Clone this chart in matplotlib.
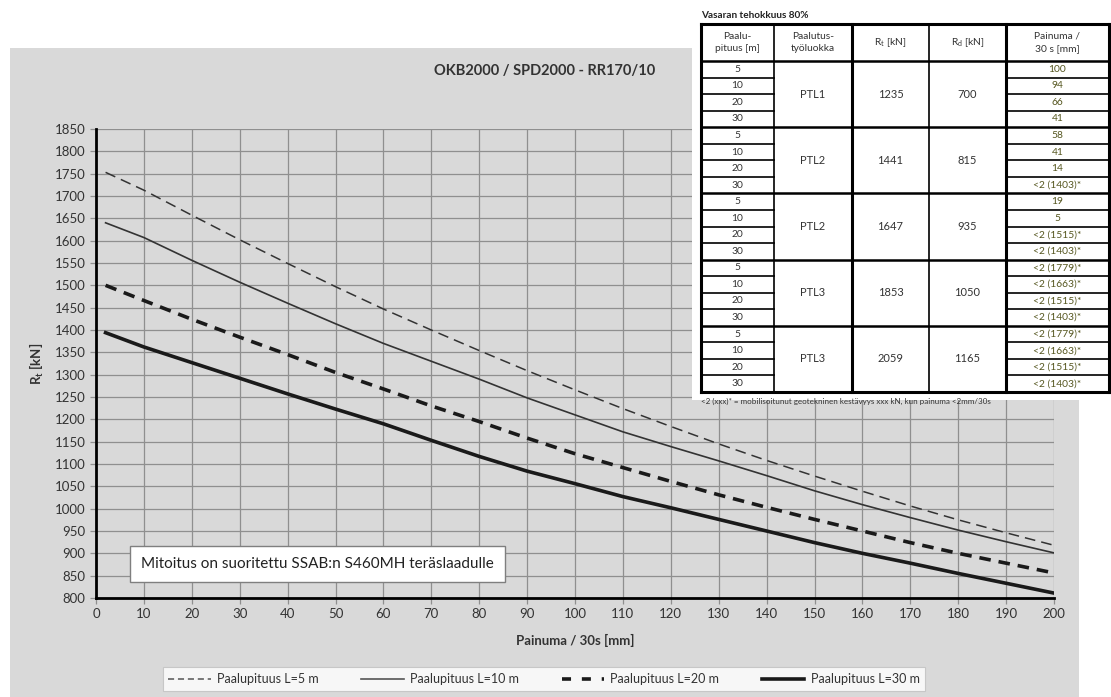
import matplotlib
matplotlib.use("Agg")
import matplotlib.pyplot as plt
from matplotlib.patches import Rectangle
from matplotlib.lines import Line2D

plt.rcParams['font.family'] = ['Lato', 'DejaVu Sans']

# ---- data ----
painuma = [2, 10, 20, 30, 40, 50, 60, 70, 80, 90, 100, 110, 120, 130, 140, 150, 160, 170, 180, 190, 200]
rt_l5 = [1753, 1713, 1657, 1602, 1549, 1497, 1447, 1400, 1354, 1309, 1266, 1224, 1184, 1145, 1108, 1073, 1039, 1006, 975, 946, 918]
rt_l10 = [1640, 1607, 1556, 1507, 1460, 1414, 1370, 1330, 1290, 1248, 1210, 1172, 1139, 1107, 1074, 1040, 1009, 980, 952, 926, 901]
rt_l20 = [1500, 1466, 1424, 1384, 1345, 1305, 1268, 1230, 1195, 1158, 1123, 1092, 1061, 1031, 1003, 976, 950, 924, 900, 878, 856]
rt_l30 = [1394, 1362, 1327, 1292, 1257, 1223, 1190, 1153, 1117, 1084, 1056, 1027, 1002, 976, 950, 924, 900, 878, 855, 833, 811]
series_labels = ["Paalupituus L=5 m", "Paalupituus L=10 m", "Paalupituus L=20 m", "Paalupituus L=30 m"]

# table
tbl_header = ["Paalu-\npituus [m]", "Paalutus-\ntyöluokka", "R$_\\mathregular{t}$ [kN]",
              "R$_\\mathregular{d}$ [kN]", "Painuma /\n30 s [mm]"]
tbl_lengths = ["5", "10", "20", "30"]
tbl_ptl = ["PTL1", "PTL2", "PTL2", "PTL3", "PTL3"]
tbl_rt = ["1235", "1441", "1647", "1853", "2059"]
tbl_rd = ["700", "815", "935", "1050", "1165"]
tbl_painuma = [
    ["100", "94", "66", "41"],
    ["58", "41", "14", "<2 (1403)*"],
    ["19", "5", "<2 (1515)*", "<2 (1403)*"],
    ["<2 (1779)*", "<2 (1663)*", "<2 (1515)*", "<2 (1403)*"],
    ["<2 (1779)*", "<2 (1663)*", "<2 (1515)*", "<2 (1403)*"],
]

W, H = 1111, 697
fig = plt.figure(figsize=(W / 100, H / 100), dpi=100)
fig.patch.set_facecolor("white")
BG = "#d9d9d9"
fig.add_artist(Rectangle((10 / W, 0), 1069 / W, (H - 48) / H, transform=fig.transFigure,
                         facecolor=BG, edgecolor="none", zorder=-5))

# ---- main chart ----
ax = fig.add_axes([96 / W, 1 - 598 / H, (1054 - 96) / W, (598 - 129) / H])
ax.set_facecolor(BG)
ink = "#1a1a1a"
ax.plot(painuma, rt_l5, color="#333333", lw=1.1, ls=(0, (7, 4)))
ax.plot(painuma, rt_l10, color="#333333", lw=1.2, ls="-")
ax.plot(painuma, rt_l20, color=ink, lw=2.6, ls=(0, (3.2, 2.2)))
ax.plot(painuma, rt_l30, color=ink, lw=2.6, ls="-")

ax.set_xlim(0, 200)
ax.set_ylim(800, 1850)
ax.set_xticks(range(0, 201, 10))
ax.set_yticks(range(800, 1851, 50))
ax.grid(True, color="#8f8f8f", lw=0.9)
ax.set_axisbelow(True)
for s in ["top", "right"]:
    ax.spines[s].set_visible(False)
ax.spines["left"].set_linewidth(2)
ax.spines["bottom"].set_linewidth(2)
ax.tick_params(axis="both", labelsize=9.5, colors="#8f8f8f", labelcolor="#333333", length=4, width=0.9)
ax.set_xlabel("Painuma / 30s [mm]", fontsize=9.5, fontweight="bold", color="#333333", labelpad=10)
ax.set_ylabel("R$_\\mathregular{t}$ [kN]", fontsize=9.5, fontweight="bold", color="#333333", labelpad=6)
ax.text(0.047, 0.0725, "Mitoitus on suoritettu SSAB:n S460MH teräslaadulle", transform=ax.transAxes,
        fontsize=11, color="#222222", ha="left", va="center",
        bbox=dict(boxstyle="square,pad=0.75", facecolor="white", edgecolor="#7f7f7f", lw=1))

fig.text(545 / W, 1 - 71 / H, "OKB2000 / SPD2000 - RR170/10", fontsize=10.5, fontweight="bold",
         color="#333333", ha="center", va="center")

handles = [
    Line2D([], [], color="#555555", lw=1.1, ls=(0, (4, 2.5))),
    Line2D([], [], color="#555555", lw=1.2, ls="-"),
    Line2D([], [], color=ink, lw=2.6, ls=(0, (2.5, 3))),
    Line2D([], [], color=ink, lw=2.6, ls="-"),
]
leg = fig.legend(handles, series_labels, loc="center", bbox_to_anchor=(544 / W, 1 - 679 / H), ncol=4,
                 fontsize=9, frameon=True, fancybox=False, edgecolor="#bfbfbf", handlelength=3.4,
                 columnspacing=3.4, handletextpad=0.5, borderpad=0.45, borderaxespad=0)
leg.get_frame().set_linewidth(0.8)
for t in leg.get_texts():
    t.set_color("#333333")

# ---- table overlay in pixel coordinates ----
ov = fig.add_axes([0, 0, 1, 1], zorder=5)
ov.set_xlim(0, W)
ov.set_ylim(H, 0)
ov.axis("off")
ov.patch.set_alpha(0)

ov.add_patch(Rectangle((692, 0), W - 692, 400, facecolor="white", edgecolor="none"))
cols = [701, 774, 852, 929, 1006, 1109]
top, hdr_bot = 24, 61
row_h = (392 - hdr_bot) / 20
bot = hdr_bot + 20 * row_h
tfs = 7.4
tcol = "#333333"
olive = "#55561f"

ov.text(701, 15, "Vasaran tehokkuus 80%", fontsize=7.2, fontweight="bold", ha="left", va="center", color="#222222")
ov.add_patch(Rectangle((cols[0], top), cols[-1] - cols[0], bot - top, facecolor="white", edgecolor="none"))

for i, h in enumerate(tbl_header):
    ov.text((cols[i] + cols[i + 1]) / 2, (top + hdr_bot) / 2, h, fontsize=tfs, ha="center", va="center",
            color=tcol, linespacing=1.5)

for g in range(5):
    y0 = hdr_bot + g * 4 * row_h
    ym = y0 + 2 * row_h
    ov.text((cols[1] + cols[2]) / 2, ym, tbl_ptl[g], fontsize=tfs + 0.6, ha="center", va="center", color=tcol)
    ov.text((cols[2] + cols[3]) / 2, ym, tbl_rt[g], fontsize=tfs + 0.6, ha="center", va="center", color=tcol)
    ov.text((cols[3] + cols[4]) / 2, ym, tbl_rd[g], fontsize=tfs + 0.6, ha="center", va="center", color=tcol)
    for r in range(4):
        yc = y0 + (r + 0.5) * row_h
        ov.text((cols[0] + cols[1]) / 2, yc, tbl_lengths[r], fontsize=tfs, ha="center", va="center", color=tcol)
        ov.text((cols[4] + cols[5]) / 2, yc, tbl_painuma[g][r], fontsize=tfs, ha="center", va="center", color=olive)
        if r < 3:
            yl = y0 + (r + 1) * row_h
            ov.plot([cols[0], cols[1]], [yl, yl], color="black", lw=1.2)
            ov.plot([cols[4], cols[5]], [yl, yl], color="black", lw=1.2)
    if g > 0:
        ov.plot([cols[0], cols[-1]], [y0, y0], color="black", lw=1.8)

ov.plot([cols[0], cols[-1]], [hdr_bot, hdr_bot], color="black", lw=1.8)
for i, x in enumerate(cols):
    lw = 2.2 if i in (0, 2, 4, 5) else 1.2
    ov.plot([x, x], [top, bot], color="black", lw=lw)
ov.plot([cols[0], cols[-1]], [top, top], color="black", lw=2.2)
ov.plot([cols[0], cols[-1]], [bot, bot], color="black", lw=2.2)

ov.text(701, 401, "<2 (xxx)* = mobilisoitunut geotekninen kestävyys xxx kN, kun painuma <2mm/30s",
        fontsize=5.8, ha="left", va="center", color="#333333")

fig.savefig("out.png", dpi=100, facecolor="white")
